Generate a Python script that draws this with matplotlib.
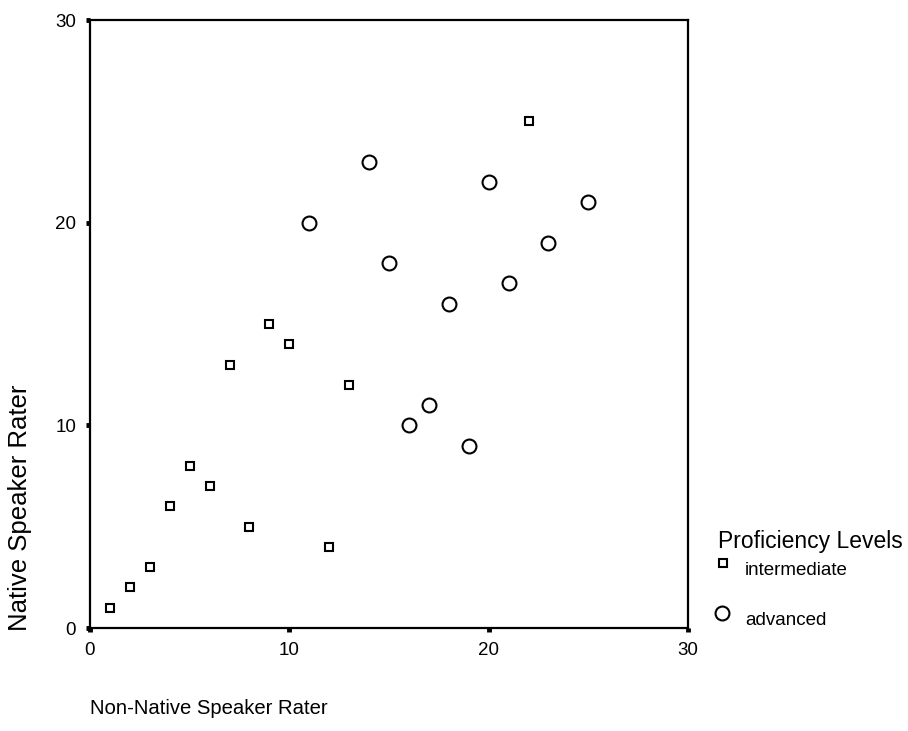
import matplotlib.pyplot as plt
from matplotlib.lines import Line2D

plt.rcParams['font.family'] = ['Liberation Sans', 'DejaVu Sans']

# non-native rater (x) vs native rater (y), by proficiency level
inter_x = [1, 2, 3, 4, 5, 6, 7, 8, 9, 10, 12, 13, 22]
inter_y = [1, 2, 3, 6, 8, 7, 13, 5, 15, 14, 4, 12, 25]
adv_x = [11, 14, 15, 16, 17, 18, 19, 20, 21, 23, 25]
adv_y = [20, 23, 18, 10, 11, 16, 9, 22, 17, 19, 21]

ticks = [0, 10, 20, 30]
levels = ['intermediate', 'advanced']

sq_style = dict(ls='none', marker='s', ms=6.2, mfc='white', mec='black', mew=1.5)
ci_style = dict(ls='none', marker='o', ms=10, mfc='white', mec='black', mew=1.5)

fig = plt.figure(figsize=(9.08, 7.31), dpi=100)
ax = fig.add_axes([0.0991, 0.1409, 0.6586, 0.8317])

ax.plot(inter_x, inter_y, clip_on=False, **sq_style)
ax.plot(adv_x, adv_y, clip_on=False, **ci_style)

ax.set_xlim(0, 30)
ax.set_ylim(0, 30)
ax.set_xticks(ticks)
ax.set_yticks(ticks)
ax.tick_params(direction='out', length=3, width=3.5, labelsize=13.5,
               pad=7, colors='black')
for s in ax.spines.values():
    s.set_linewidth(1.6)

fig.text(0.0991, 0.018, 'Non-Native Speaker Rater', fontsize=14.6,
         ha='left', va='bottom')
fig.text(0.022, 0.305, 'Native Speaker Rater', fontsize=18.5, rotation=90,
         ha='center', va='center')

# legend drawn by hand in figure coordinates
fig.text(0.7907, 0.2599, 'Proficiency Levels', fontsize=16.5, ha='left',
         va='center')
fig.add_artist(Line2D([0.7963], [0.2298], transform=fig.transFigure, **sq_style))
fig.add_artist(Line2D([0.7952], [0.1614], transform=fig.transFigure, **ci_style))
fig.text(0.8205, 0.2202, levels[0], fontsize=13.5, ha='left', va='center')
fig.text(0.8205, 0.1518, levels[1], fontsize=13.5, ha='left', va='center')

fig.savefig('out.png', dpi=100, facecolor='white')
